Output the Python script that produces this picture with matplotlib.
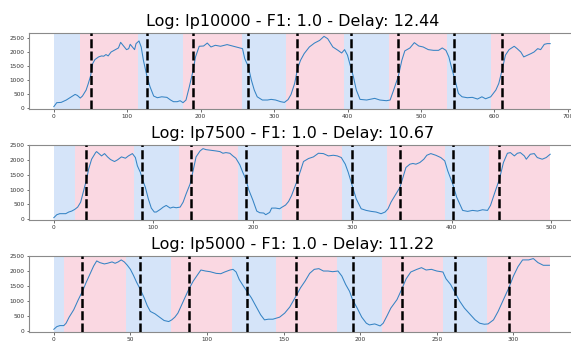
import matplotlib
matplotlib.use("Agg")
import matplotlib.pyplot as plt

# --- data --------------------------------------------------------------
log_names = ["lp10000", "lp7500", "lp5000"]
f1_scores = ["1.0", "1.0", "1.0"]
delays = ["12.44", "10.67", "11.22"]

x_lp10000 = [0, 4, 10, 17, 24, 29, 32, 36, 39, 44, 47, 50, 53, 56, 61, 65, 68,
             71, 74, 78, 84, 88, 91, 96, 99, 102, 104, 107, 110, 112, 116, 119,
             122, 127, 131, 136, 141, 147, 154, 159, 163, 168, 172, 176, 180,
             184, 189, 193, 198, 204, 209, 214, 220, 227, 236, 245, 252, 257,
             260, 265, 269, 273, 277, 284, 291, 296, 302, 309, 314, 319, 323,
             328, 332, 336, 341, 348, 355, 362, 368, 373, 380, 387, 392, 396,
             400, 403, 408, 412, 417, 426, 437, 444, 453, 458, 462, 469, 474,
             478, 485, 491, 497, 503, 510, 517, 524, 529, 534, 538, 542, 547,
             551, 556, 563, 570, 577, 583, 588, 595, 602, 606, 611, 615, 620,
             627, 631, 636, 640, 645, 650, 654, 659, 663, 668, 672, 676]
y_lp10000 = [47, 190, 200, 285, 400, 485, 450, 355, 427, 640, 877, 1138, 1590,
             1730, 1825, 1860, 1850, 1910, 1860, 2000, 2085, 2145, 2345, 2180,
             2085, 2120, 2275, 2180, 2085, 2300, 2395, 2180, 1705, 1115, 760,
             427, 367, 400, 380, 285, 225, 225, 260, 190, 285, 700, 1256, 1825,
             2205, 2215, 2320, 2180, 2240, 2205, 2265, 2205, 2155, 2120, 1765,
             1470, 1000, 640, 400, 285, 285, 308, 285, 225, 200, 300, 480, 877,
             1410, 1705, 1945, 2180, 2320, 2415, 2560, 2475, 2180, 2060, 1965,
             2085, 1885, 1590, 1115, 640, 308, 285, 344, 285, 260, 285, 580,
             1115, 1705, 2040, 2145, 2335, 2215, 2180, 2085, 2060, 2060, 2145,
             2060, 1825, 1410, 940, 520, 400, 367, 380, 320, 400, 330, 400, 640,
             877, 1410, 1885, 2085, 2205, 2120, 2000, 1825, 1885, 1945, 2000,
             2120, 2085, 2275, 2300, 2300]

x_lp7500 = [0, 3, 6, 12, 15, 18, 21, 24, 27, 30, 33, 35, 38, 42, 43, 46, 48,
            51, 54, 57, 61, 64, 68, 72, 75, 79, 82, 84, 87, 89, 92, 95, 98, 101,
            103, 107, 110, 113, 117, 120, 123, 127, 130, 133, 137, 140, 143,
            147, 150, 153, 158, 163, 167, 170, 173, 177, 180, 183, 187, 190,
            193, 196, 200, 204, 207, 211, 213, 217, 219, 223, 227, 229, 233,
            236, 239, 244, 248, 251, 256, 261, 266, 271, 276, 281, 285, 289,
            293, 296, 300, 304, 309, 314, 319, 324, 329, 333, 336, 339, 344,
            348, 351, 354, 358, 361, 364, 368, 372, 375, 379, 384, 389, 393,
            396, 401, 405, 411, 416, 421, 426, 431, 436, 439, 444, 448, 452,
            456, 459, 463, 466, 469, 473, 475, 479, 483, 486, 491, 495, 499]
y_lp7500 = [55, 155, 190, 190, 245, 278, 333, 411, 578, 967, 1355, 1690, 2022,
            2244, 2278, 2189, 2133, 2211, 2100, 2011, 1944, 2000, 2100, 2055,
            2133, 2211, 2078, 1800, 1578, 1355, 1078, 689, 378, 245, 245, 333,
            411, 467, 378, 411, 389, 411, 578, 855, 1189, 1633, 2100, 2300,
            2378, 2344, 2322, 2300, 2278, 2222, 2244, 2222, 2133, 2055, 1833,
            1578, 1355, 989, 655, 278, 222, 211, 155, 233, 378, 378, 355, 400,
            480, 600, 800, 1244, 1633, 1944, 2044, 2100, 2222, 2211, 2133,
            2155, 2133, 2078, 1855, 1578, 1133, 689, 355, 300, 267, 245, 189,
            245, 355, 578, 855, 1078, 1411, 1744, 1855, 1878, 1855, 1911, 2022,
            2155, 2211, 2155, 2078, 1967, 1633, 1189, 744, 300, 267, 300, 278,
            322, 300, 467, 967, 1355, 1911, 2222, 2244, 2133, 2222, 2244, 2133,
            2022, 2189, 2211, 2078, 2022, 2078, 2189]

x_lp5000 = [0, 2, 4, 6.5, 8, 10, 13, 16, 19, 21, 23.5, 26, 28, 30, 33, 35, 38,
            40, 42, 44, 46, 48, 50, 52, 54, 56.5, 59, 61, 63, 66, 69, 72, 75,
            77, 79, 81, 83, 85, 88, 91, 94, 96, 99, 102, 106, 109, 111.5, 115,
            117, 119, 121, 123.5, 126, 129, 132, 135, 137.5, 140, 143, 147.4,
            150.7, 154, 158, 161, 164, 167, 170, 173, 176, 179, 182, 185.5,
            188, 190.5, 193, 195, 198, 201, 204, 206, 209.5, 213, 215, 217.5,
            220, 224, 227, 230, 233, 237, 240, 243, 246.5, 250, 254, 256, 259,
            262, 265, 268, 272, 275, 278, 281, 283.5, 287, 290, 293, 297, 300,
            303, 306, 310, 313, 316, 319.5, 323.5]
y_lp5000 = [56, 146, 179, 179, 258, 460, 706, 1043, 1356, 1603, 1883, 2163,
            2332, 2276, 2231, 2253, 2298, 2253, 2298, 2365, 2298, 2186, 2051,
            1850, 1625, 1379, 1099, 841, 650, 572, 460, 348, 314, 370, 460,
            594, 818, 1043, 1379, 1659, 1883, 2029, 1995, 1973, 1917, 1906,
            1962, 2029, 2051, 1962, 1715, 1513, 1323, 1099, 818, 538, 370,
            392, 392, 460, 594, 796, 1155, 1435, 1659, 1917, 2051, 2074, 1995,
            1995, 1973, 1995, 1827, 1547, 1323, 1043, 762, 460, 258, 202, 235,
            168, 258, 504, 762, 1043, 1379, 1737, 1962, 2051, 2107, 2029, 2051,
            1995, 1962, 1737, 1547, 1267, 987, 762, 538, 370, 258, 224, 235,
            370, 650, 987, 1435, 1827, 2141, 2365, 2365, 2410, 2276, 2186, 2186]

# boundaries of the shaded regions, alternating blue / pink
spans_lp10000 = [0, 36, 115, 176, 256, 316, 395, 456, 535, 596, 676]
spans_lp7500 = [0, 21, 81, 126, 185, 229, 290, 335, 393, 437, 499]
spans_lp5000 = [0, 6.5, 47.4, 76.3, 116.3, 145.2, 185, 214.3, 254, 283, 324]

# detected change points (dashed lines)
changes_lp10000 = [50, 127, 189, 265, 331, 405, 469, 545, 611]
changes_lp7500 = [32, 89, 138, 193, 244, 300, 348, 401, 448]
changes_lp5000 = [18.7, 56.5, 88.3, 126, 158.3, 195.3, 227, 262, 296.8]

# --- plotting ----------------------------------------------------------
BLUE_BG = "#d5e4f9"
PINK_BG = "#fad8e2"
LINE = "#3583c4"

panels = [
    (x_lp10000, y_lp10000, spans_lp10000, changes_lp10000, (-36, 2690)),
    (x_lp7500, y_lp7500, spans_lp7500, changes_lp7500, (-33, 2510)),
    (x_lp5000, y_lp5000, spans_lp5000, changes_lp5000, (-44, 2505)),
]

W, H = 571, 349
fig = plt.figure(figsize=(W / 100, H / 100), dpi=100)

# axes boxes in pixels: (top, bottom)
boxes = [(32.7, 109.0), (144.7, 220.3), (255.7, 332.3)]
left_px, right_px = 29.0, 575.0

for i, (xs, ys, spans, changes, ylim) in enumerate(panels):
    top, bottom = boxes[i]
    ax = fig.add_axes([left_px / W, 1 - bottom / H,
                       (right_px - left_px) / W, (bottom - top) / H])

    for j in range(len(spans) - 1):
        color = BLUE_BG if j % 2 == 0 else PINK_BG
        ax.axvspan(spans[j], spans[j + 1], color=color, lw=0, zorder=0)

    ax.plot(xs, ys, color=LINE, lw=0.75, zorder=2)

    for c in changes:
        ax.axvline(c, color="black", lw=1.8, linestyle=(0, (3.6, 1.3)), zorder=3)

    span = spans[-1] - spans[0]
    ax.set_xlim(spans[0] - 0.05 * span, spans[-1] + 0.05 * span)
    ax.set_ylim(*ylim)
    ax.set_yticks([0, 500, 1000, 1500, 2000, 2500])

    ax.tick_params(labelsize=4.2, length=1.8, width=0.5, pad=1.5,
                   colors="#333333")
    for s in ax.spines.values():
        s.set_color("#8a8a8a")
        s.set_linewidth(0.8)

    ax.set_title(f"Log: {log_names[i]} - F1: {f1_scores[i]} - Delay: {delays[i]}",
                 fontsize=11.5, x=(293 - left_px) / (right_px - left_px), pad=5)

fig.savefig("out.png", dpi=100)
